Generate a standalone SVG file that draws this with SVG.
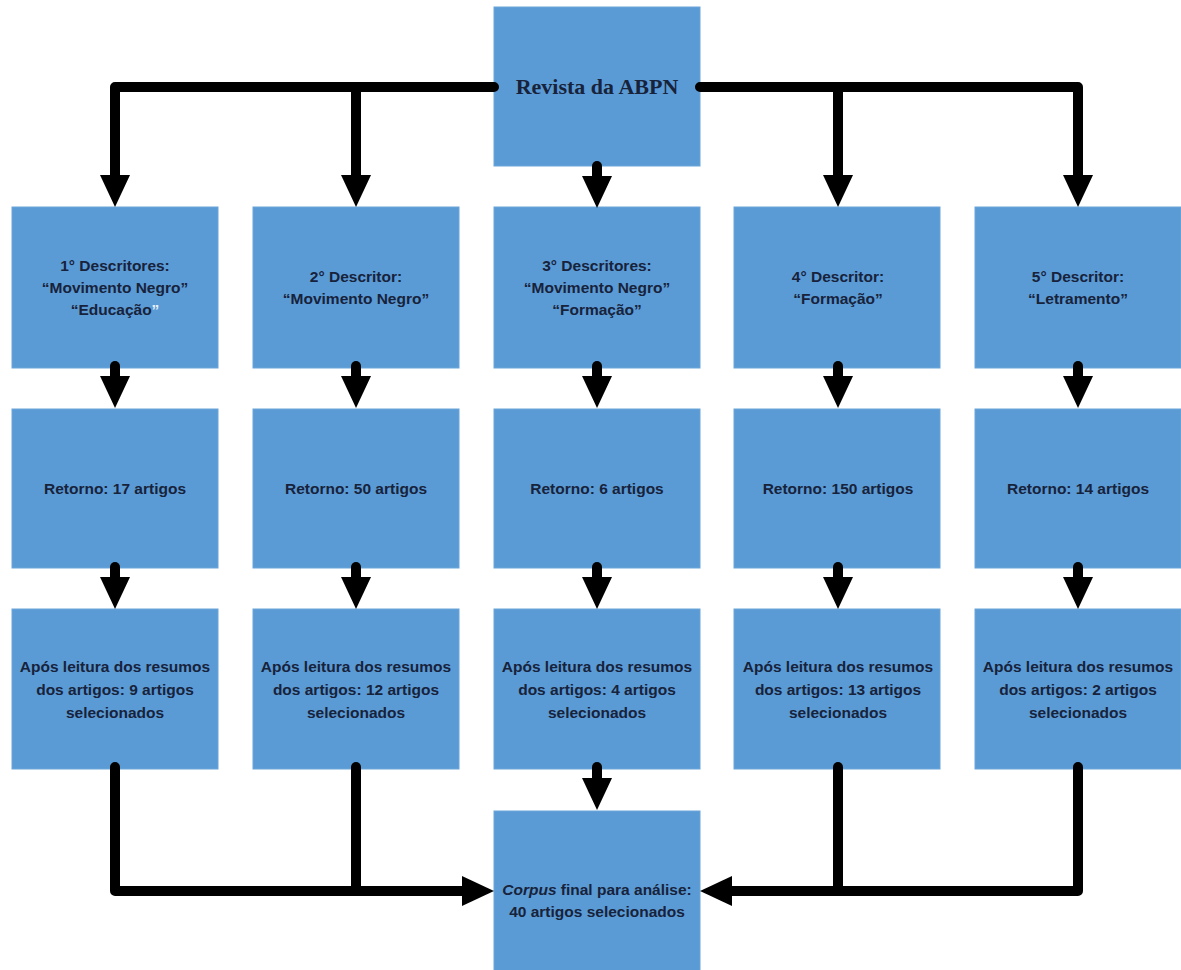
<svg xmlns="http://www.w3.org/2000/svg" width="1181" height="970" viewBox="0 0 1181 970">
<style>
.box{fill:#5b9bd5;stroke:#6aa5da;stroke-width:1}
.t{font-family:"Liberation Sans",Arial,sans-serif;font-weight:bold;font-size:15.5px;fill:#17223b;text-anchor:middle}
.ts{font-family:"Liberation Serif","Times New Roman",serif;font-weight:bold;font-size:22px;fill:#17223b;text-anchor:middle}
.c{fill:none;stroke:#000;stroke-width:10;stroke-linecap:round;stroke-linejoin:round}
</style>
<defs>
<marker id="ah" viewBox="0 0 32 30" refX="0" refY="15" markerWidth="32" markerHeight="30" markerUnits="userSpaceOnUse" orient="auto">
<path d="M0,0 L32,15 L0,30 z" fill="#000"/>
</marker>
</defs>
<rect width="1181" height="970" fill="#fff"/>

<g id="top">
<rect class="box" x="494" y="7" width="206" height="159"/>
<text class="ts" x="597" y="94">Revista da ABPN</text>
</g>

<g id="d1">
<rect class="box" x="12" y="207" width="206" height="161"/>
<text class="t" x="115" y="271">1° Descritores:</text>
<text class="t" x="115" y="293">“Movimento Negro”</text>
<text class="t" x="115" y="315">“Educação<tspan fill="#e8f0fa">”</tspan></text>
</g>
<g id="d2">
<rect class="box" x="253" y="207" width="206" height="161"/>
<text class="t" x="356" y="282">2° Descritor:</text>
<text class="t" x="356" y="304">“Movimento Negro”</text>
</g>
<g id="d3">
<rect class="box" x="494" y="207" width="206" height="161"/>
<text class="t" x="597" y="271">3° Descritores:</text>
<text class="t" x="597" y="293">“Movimento Negro”</text>
<text class="t" x="597" y="315">“Formação”</text>
</g>
<g id="d4">
<rect class="box" x="734" y="207" width="206" height="161"/>
<text class="t" x="838" y="282">4° Descritor:</text>
<text class="t" x="838" y="304">“Formação”</text>
</g>
<g id="d5">
<rect class="box" x="975" y="207" width="206" height="161"/>
<text class="t" x="1078" y="282">5° Descritor:</text>
<text class="t" x="1078" y="304">“Letramento”</text>
</g>

<g id="r1">
<rect class="box" x="12" y="409" width="206" height="159"/>
<text class="t" x="115" y="494">Retorno: 17 artigos</text>
</g>
<g id="r2">
<rect class="box" x="253" y="409" width="206" height="159"/>
<text class="t" x="356" y="494">Retorno: 50 artigos</text>
</g>
<g id="r3">
<rect class="box" x="494" y="409" width="206" height="159"/>
<text class="t" x="597" y="494">Retorno: 6 artigos</text>
</g>
<g id="r4">
<rect class="box" x="734" y="409" width="206" height="159"/>
<text class="t" x="838" y="494">Retorno: 150 artigos</text>
</g>
<g id="r5">
<rect class="box" x="975" y="409" width="206" height="159"/>
<text class="t" x="1078" y="494">Retorno: 14 artigos</text>
</g>

<g id="s1">
<rect class="box" x="12" y="609" width="206" height="160"/>
<text class="t" x="115" y="672">Após leitura dos resumos</text>
<text class="t" x="115" y="695">dos artigos: 9 artigos</text>
<text class="t" x="115" y="718">selecionados</text>
</g>
<g id="s2">
<rect class="box" x="253" y="609" width="206" height="160"/>
<text class="t" x="356" y="672">Após leitura dos resumos</text>
<text class="t" x="356" y="695">dos artigos: 12 artigos</text>
<text class="t" x="356" y="718">selecionados</text>
</g>
<g id="s3">
<rect class="box" x="494" y="609" width="206" height="160"/>
<text class="t" x="597" y="672">Após leitura dos resumos</text>
<text class="t" x="597" y="695">dos artigos: 4 artigos</text>
<text class="t" x="597" y="718">selecionados</text>
</g>
<g id="s4">
<rect class="box" x="734" y="609" width="206" height="160"/>
<text class="t" x="838" y="672">Após leitura dos resumos</text>
<text class="t" x="838" y="695">dos artigos: 13 artigos</text>
<text class="t" x="838" y="718">selecionados</text>
</g>
<g id="s5">
<rect class="box" x="975" y="609" width="206" height="160"/>
<text class="t" x="1078" y="672">Após leitura dos resumos</text>
<text class="t" x="1078" y="695">dos artigos: 2 artigos</text>
<text class="t" x="1078" y="718">selecionados</text>
</g>

<g id="final">
<rect class="box" x="494" y="811" width="206" height="165"/>
<text class="t" x="597" y="895"><tspan font-style="italic">Corpus</tspan> final para análise:</text>
<text class="t" x="597" y="917">40 artigos selecionados</text>
</g>

<g id="connectors">
<path class="c" d="M494 87 H115 V175" marker-end="url(#ah)"/>
<path class="c" d="M356 87 V175" marker-end="url(#ah)"/>
<path class="c" d="M700 87 H1078 V175" marker-end="url(#ah)"/>
<path class="c" d="M838 87 V175" marker-end="url(#ah)"/>
<path class="c" d="M597 166 V176" marker-end="url(#ah)"/>

<path class="c" d="M115 366 V376" marker-end="url(#ah)"/>
<path class="c" d="M356 366 V376" marker-end="url(#ah)"/>
<path class="c" d="M597 366 V376" marker-end="url(#ah)"/>
<path class="c" d="M838 366 V376" marker-end="url(#ah)"/>
<path class="c" d="M1078 366 V376" marker-end="url(#ah)"/>

<path class="c" d="M115 567 V577" marker-end="url(#ah)"/>
<path class="c" d="M356 567 V577" marker-end="url(#ah)"/>
<path class="c" d="M597 567 V577" marker-end="url(#ah)"/>
<path class="c" d="M838 567 V577" marker-end="url(#ah)"/>
<path class="c" d="M1078 567 V577" marker-end="url(#ah)"/>

<path class="c" d="M597 767 V778" marker-end="url(#ah)"/>

<path class="c" d="M115 767 V891 H462" marker-end="url(#ah)"/>
<path class="c" d="M356 767 V891"/>
<path class="c" d="M1078 767 V891 H732" marker-end="url(#ah)"/>
<path class="c" d="M838 767 V891"/>
</g>
</svg>
